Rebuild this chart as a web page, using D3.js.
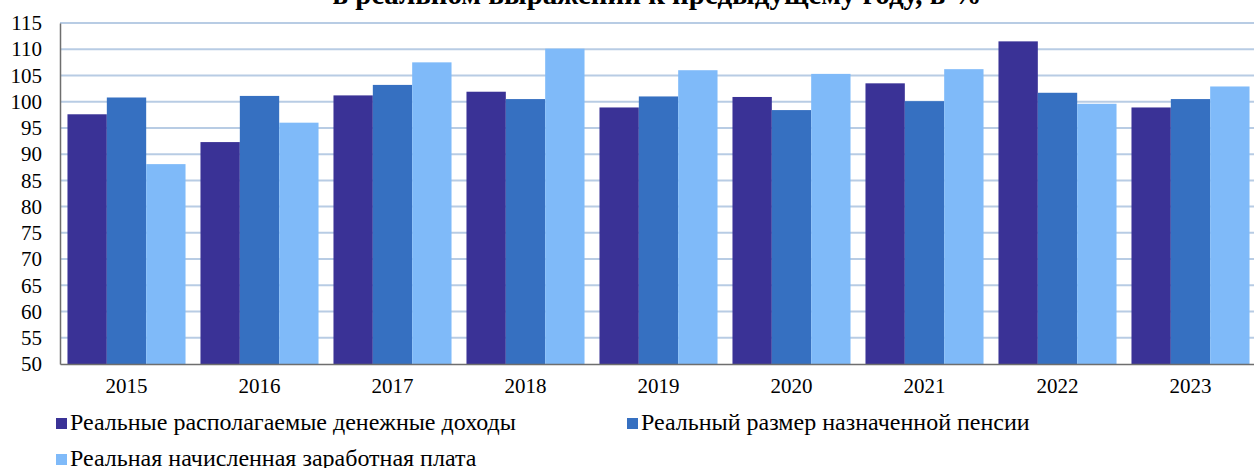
<!DOCTYPE html>
<html>
<head>
<meta charset="utf-8">
<script src="https://cdn.jsdelivr.net/npm/d3@7"></script>
<style>
body { margin: 0; background: #fff; }
</style>
</head>
<body>
<div id="chart"></div>
<script>
var years = ["2015", "2016", "2017", "2018", "2019", "2020", "2021", "2022", "2023"];
var seriesNames = [
	"Реальные располагаемые денежные доходы",
	"Реальный размер назначенной пенсии",
	"Реальная начисленная заработная плата"
];
var incomes = [97.6, 92.3, 101.2, 101.9, 98.9, 100.9, 103.5, 111.5, 98.9];
var pensions = [100.8, 101.1, 103.2, 100.5, 101.0, 98.4, 100.1, 101.7, 100.5];
var wages = [88.1, 96.0, 107.5, 110.1, 106.0, 105.3, 106.2, 99.6, 102.9];
var yTicks = [50, 55, 60, 65, 70, 75, 80, 85, 90, 95, 100, 105, 110, 115];
var colors = ["#3a3296", "#3670c1", "#7fbaf9"];
var title = "в реальном выражении к предыдущему году, в %";

var FONT = "Liberation Serif";
var width = 1254, height = 468;
var svg = d3.select("#chart")
	.append("svg")
	.attr("width", width)
	.attr("height", height)
	.style("font-family", FONT);

var values = [incomes, pensions, wages];
var rows = years.map(function(y, i) {
	return { year: y, vals: values.map(function(s) { return s[i]; }) };
});

var x0 = d3.scaleBand().domain(years).range([60, 1257]).padding(0);
var x1 = d3.scaleBand().domain([0, 1, 2]).range([0, x0.bandwidth()])
	.paddingInner(0).paddingOuter(0.19);
var y = d3.scaleLinear().domain([50, 115]).range([364, 23]);

// title, its upper part is outside the picture like in the source
svg.append("text")
	.attr("x", 657)
	.attr("y", 4)
	.attr("text-anchor", "middle")
	.style("font-family", FONT)
	.style("font-size", "29px")
	.style("font-weight", "bold")
	.text(title);

svg.append("g")
	.selectAll("line")
	.data(yTicks.slice(1))
	.enter()
	.append("line")
	.attr("x1", 60)
	.attr("x2", width)
	.attr("y1", function(d) { return y(d); })
	.attr("y2", function(d) { return y(d); })
	.attr("stroke", "#b8cce4")
	.attr("stroke-width", 2);

var groups = svg.append("g")
	.selectAll("g")
	.data(rows)
	.enter()
	.append("g")
	.attr("transform", function(d) { return "translate(" + x0(d.year) + ",0)"; });

groups.selectAll("rect")
	.data(function(d) { return d.vals; })
	.enter()
	.append("rect")
	.attr("x", function(d, i) { return x1(i); })
	.attr("width", x1.bandwidth())
	.attr("y", function(d) { return y(d); })
	.attr("height", function(d) { return y(50) - y(d); })
	.attr("fill", function(d, i) { return colors[i]; });

var yAxis = svg.append("g")
	.attr("transform", "translate(60,0)")
	.call(d3.axisLeft(y).tickValues(yTicks).tickSize(0).tickPadding(18));
yAxis.select(".domain").attr("stroke", "#6e6e6e").attr("stroke-width", 1.5);
yAxis.selectAll("text").attr("fill", "#000")
	.style("font-family", FONT).style("font-size", "21px");

var xAxis = svg.append("g")
	.attr("transform", "translate(0,364)")
	.call(d3.axisBottom(x0).tickSize(0).tickPadding(14));
xAxis.select(".domain").attr("stroke", "#6e6e6e").attr("stroke-width", 1.5);
xAxis.selectAll("text").attr("fill", "#000")
	.style("font-family", FONT).style("font-size", "21px");

var legendPos = [[56, 430], [627, 430], [56, 466]];
var legend = svg.append("g")
	.selectAll("g")
	.data(seriesNames)
	.enter()
	.append("g")
	.attr("transform", function(d, i) { return "translate(" + legendPos[i][0] + "," + legendPos[i][1] + ")"; });

legend.append("rect")
	.attr("x", 0)
	.attr("y", -12)
	.attr("width", 11)
	.attr("height", 11)
	.attr("fill", function(d, i) { return colors[i]; });

legend.append("text")
	.attr("x", 14)
	.attr("y", 0)
	.style("font-family", FONT)
	.style("font-size", "24px")
	.text(function(d) { return d; });
</script>
</body>
</html>
